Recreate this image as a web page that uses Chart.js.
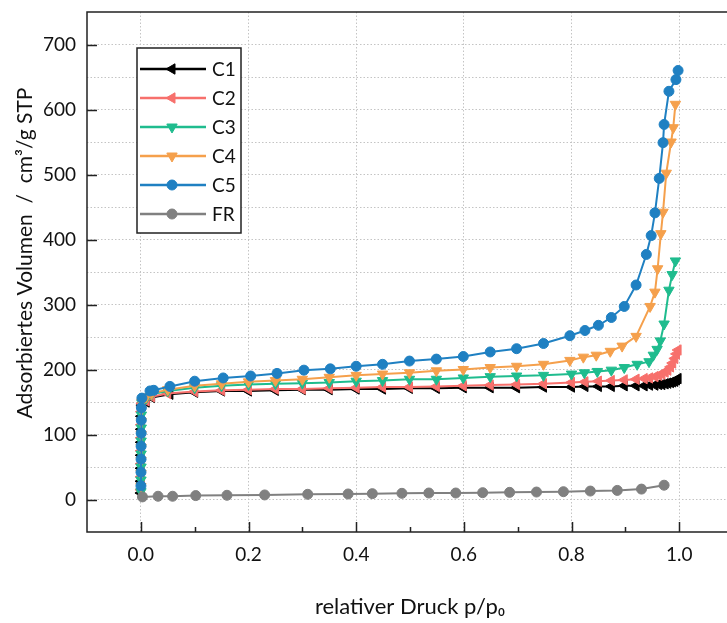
<!DOCTYPE html>
<html>
<head>
<meta charset="utf-8">
<script src="https://cdn.jsdelivr.net/npm/chart.js@4.4.1/dist/chart.umd.min.js"></script>
<style>
  html, body { margin: 0; padding: 0; background: #fff; overflow: hidden; }
  #wrap { width: 740px; height: 623px; }
</style>
</head>
<body>
<div id="wrap"><canvas id="chart" width="740" height="623"></canvas></div>
<script>
// Isothermen-Daten: relativer Druck p/p0 und adsorbiertes Volumen (cm3/g STP)
const c1P = [0.0002, 0.0003, 0.0004, 0.0005, 0.0006, 0.0008, 0.001, 0.002, 0.01, 0.02, 0.054, 0.1, 0.15, 0.2, 0.25, 0.3, 0.35, 0.4, 0.449, 0.499, 0.549, 0.599, 0.649, 0.698, 0.748, 0.8, 0.825, 0.85, 0.874, 0.898, 0.92, 0.935, 0.945, 0.955, 0.962, 0.968, 0.974, 0.979, 0.984, 0.988, 0.992, 0.995, 0.998];
const c1V = [10, 28, 48, 68, 88, 108, 128, 145, 150, 157, 162, 165, 167, 167, 168, 169, 169, 170, 170, 171, 171, 172, 172, 172, 173, 173, 174, 174, 174, 175, 175, 175, 176, 176, 177, 177, 178, 179, 180, 181, 182, 184, 186];

const c2P = [0.0002, 0.0003, 0.0004, 0.0005, 0.0006, 0.0008, 0.001, 0.002, 0.01, 0.02, 0.05, 0.1, 0.15, 0.2, 0.25, 0.3, 0.35, 0.4, 0.449, 0.499, 0.549, 0.599, 0.649, 0.698, 0.748, 0.8, 0.825, 0.85, 0.874, 0.898, 0.92, 0.935, 0.945, 0.955, 0.962, 0.968, 0.974, 0.979, 0.984, 0.988, 0.992, 0.995, 0.998];
const c2V = [15, 35, 55, 75, 95, 115, 135, 148, 152, 158, 163, 166, 168, 169, 170, 170, 171, 172, 173, 173, 174, 175, 176, 177, 178, 180, 181, 182, 183, 184, 185, 186, 187, 189, 191, 193, 196, 199, 204, 210, 217, 224, 230];

const c3P = [0.0002, 0.0003, 0.0004, 0.0005, 0.0006, 0.0008, 0.001, 0.002, 0.01, 0.02, 0.05, 0.1, 0.15, 0.2, 0.25, 0.3, 0.35, 0.4, 0.449, 0.499, 0.549, 0.599, 0.649, 0.698, 0.748, 0.8, 0.824, 0.848, 0.874, 0.898, 0.922, 0.944, 0.952, 0.959, 0.965, 0.972, 0.981, 0.987, 0.993];
const c3V = [12, 30, 50, 70, 90, 110, 130, 148, 156, 162, 167, 172, 175, 177, 178, 179, 180, 182, 183, 185, 185, 187, 189, 190, 191, 193, 195, 197, 199, 203, 208, 212, 222, 231, 244, 270, 322, 346, 367];

const c4P = [0.0002, 0.0003, 0.0004, 0.0005, 0.0006, 0.0008, 0.001, 0.002, 0.01, 0.02, 0.05, 0.1, 0.15, 0.2, 0.25, 0.3, 0.35, 0.4, 0.449, 0.499, 0.549, 0.599, 0.649, 0.698, 0.748, 0.797, 0.822, 0.846, 0.872, 0.894, 0.92, 0.946, 0.955, 0.96, 0.966, 0.97, 0.976, 0.985, 0.989, 0.993];
const c4V = [20, 40, 60, 80, 100, 120, 138, 150, 158, 163, 169, 175, 178, 181, 183, 185, 188, 191, 193, 195, 198, 200, 203, 205, 208, 214, 219, 222, 228, 236, 251, 297, 319, 355, 409, 442, 502, 550, 572, 608];

const c5P = [0.0002, 0.0003, 0.0004, 0.0005, 0.0006, 0.0008, 0.001, 0.002, 0.017, 0.024, 0.054, 0.1, 0.153, 0.204, 0.253, 0.303, 0.352, 0.4, 0.449, 0.499, 0.549, 0.599, 0.649, 0.698, 0.748, 0.797, 0.825, 0.85, 0.874, 0.898, 0.92, 0.939, 0.948, 0.955, 0.963, 0.97, 0.972, 0.981, 0.994, 0.998];
const c5V = [21, 42, 62, 82, 102, 122, 141, 156, 167, 168, 174, 182, 187, 190, 194, 199, 201, 205, 208, 213, 216, 220, 227, 232, 240, 252, 260, 268, 280, 297, 330, 377, 406, 441, 494, 549, 577, 628, 646, 660];

const frP = [0.003, 0.032, 0.059, 0.102, 0.16, 0.23, 0.31, 0.385, 0.43, 0.485, 0.535, 0.585, 0.635, 0.685, 0.735, 0.785, 0.835, 0.885, 0.93, 0.972];
const frV = [4, 5, 5, 6, 6.5, 7, 8, 8.5, 9, 9.5, 10, 10, 10.5, 11, 11.5, 12, 13, 14, 16, 22];

// Achsenbeschriftung
const xMajorTicks = [0, 0.2, 0.4, 0.6, 0.8, 1.0];
const xMinorTicks = [0.1, 0.3, 0.5, 0.7, 0.9];
const yMajorTicks = [0, 100, 200, 300, 400, 500, 600, 700];
const yTitle = 'Adsorbiertes Volumen  /  cm\u00b3/g STP';

const FONT = 'Lato, "Open Sans", sans-serif';
const GRID = '#c4c4c4';

function toPoints(p, v) {
    return p.map((x, i) => ({ x: x, y: v[i] }));
}

function series(label, p, v, color, style, rot, order) {
    return {
        label: label,
        data: toPoints(p, v),
        borderColor: color,
        backgroundColor: color,
        pointStyle: style,
        pointRotation: rot,
        pointRadius: style === 'circle' ? 5 : 6,
        pointBorderWidth: 1,
        borderWidth: 2,
        showLine: true,
        tension: 0,
        order: order
    };
}

// keine zusätzlichen Randabstände durch leere Beschriftungen
function noPadding(s) {
    s.paddingTop = 0;
    s.paddingBottom = 0;
    s.paddingLeft = 0;
    s.paddingRight = 0;
}

// Rahmen, nach innen zeigende Ticks und y-Achsentitel
const framePlugin = {
    id: 'frame',
    afterDatasetsDraw(chart) {
        const ctx = chart.ctx;
        const a = chart.chartArea;
        const xs = chart.scales.x, ys = chart.scales.y;
        ctx.save();
        ctx.strokeStyle = '#222';
        ctx.lineWidth = 1.5;
        ctx.beginPath();
        ctx.moveTo(a.right + 5, a.top);
        ctx.lineTo(a.left, a.top);
        ctx.lineTo(a.left, a.bottom);
        ctx.lineTo(a.right + 5, a.bottom);
        ctx.stroke();
        ctx.beginPath();
        xMajorTicks.forEach(v => {
            const px = Math.round(xs.getPixelForValue(v)) + 0.5;
            ctx.moveTo(px, a.bottom);
            ctx.lineTo(px, a.bottom - 10);
        });
        xMinorTicks.forEach(v => {
            const px = Math.round(xs.getPixelForValue(v)) + 0.5;
            ctx.moveTo(px, a.bottom);
            ctx.lineTo(px, a.bottom - 5);
        });
        yMajorTicks.forEach(v => {
            const py = Math.round(ys.getPixelForValue(v)) + 0.5;
            ctx.moveTo(a.left, py);
            ctx.lineTo(a.left + 10, py);
        });
        ctx.stroke();

        ctx.translate(25, (a.top + a.bottom) / 2 - 19);
        ctx.rotate(-Math.PI / 2);
        ctx.font = '21px ' + FONT;
        ctx.fillStyle = '#111';
        ctx.textAlign = 'center';
        ctx.textBaseline = 'middle';
        ctx.fillText(yTitle, 0, 0);
        ctx.restore();
    }
};

// Legende mit Linie und Symbol
const legendPlugin = {
    id: 'boxLegend',
    afterDraw(chart) {
        const ctx = chart.ctx;
        const a = chart.chartArea;
        const left = a.left + 50, top = a.top + 36, w = 104, h = 185;
        ctx.save();
        ctx.fillStyle = '#fff';
        ctx.fillRect(left, top, w, h);
        ctx.strokeStyle = '#222';
        ctx.lineWidth = 1.5;
        ctx.strokeRect(left, top, w, h);
        ctx.font = '19px ' + FONT;
        ctx.textBaseline = 'middle';
        chart.data.datasets.forEach((ds, i) => {
            const y = top + 21 + i * 29;
            ctx.strokeStyle = ds.borderColor;
            ctx.fillStyle = ds.backgroundColor;
            ctx.lineWidth = 2.5;
            ctx.beginPath();
            ctx.moveTo(left + 3, y);
            ctx.lineTo(left + 69, y);
            ctx.stroke();
            ctx.lineWidth = 1;
            Chart.helpers.drawPoint(ctx, {
                pointStyle: ds.pointStyle,
                radius: ds.pointRadius,
                rotation: ds.pointRotation,
                borderWidth: 1
            }, left + 35, y);
            ctx.fillStyle = '#111';
            ctx.fillText(ds.label, left + 75, y + 1);
        });
        ctx.restore();
    }
};

new Chart(document.getElementById('chart'), {
    type: 'scatter',
    data: {
        datasets: [
            series('C1', c1P, c1V, '#000000', 'triangle', -90, 6),
            series('C2', c2P, c2V, '#f7706c', 'triangle', -90, 5),
            series('C3', c3P, c3V, '#1fbc8e', 'triangle', 180, 4),
            series('C4', c4P, c4V, '#f5a04c', 'triangle', 180, 3),
            series('C5', c5P, c5V, '#1f80c2', 'circle', 0, 2),
            series('FR', frP, frV, '#808080', 'circle', 0, 1)
        ]
    },
    options: {
        responsive: false,
        animation: false,
        devicePixelRatio: 1,
        layout: { padding: { top: 12, right: 1, left: 0, bottom: 0 } },
        plugins: { legend: { display: false }, tooltip: { enabled: false } },
        scales: {
            x: {
                type: 'linear',
                min: -0.1,
                max: 1.1,
                ticks: {
                    stepSize: 0.1,
                    autoSkip: false,
                    maxRotation: 0,
                    padding: 11,
                    color: '#111',
                    font: { family: FONT, size: 19 },
                    callback: v => {
                        const k = Math.round(v * 10);
                        return (k >= 0 && k <= 10 && k % 2 === 0) ? (k / 10).toFixed(1) : '';
                    }
                },
                grid: {
                    drawTicks: false,
                    lineWidth: 1,
                    color: c => {
                        const k = Math.round(c.tick.value * 10);
                        return (k >= 0 && k <= 10 && k % 2 === 0) ? GRID : 'rgba(0,0,0,0)';
                    }
                },
                border: { display: false, dash: [1.5, 2] },
                title: {
                    display: true,
                    text: 'relativer Druck p/p\u2080',
                    color: '#111',
                    font: { family: FONT, size: 22 },
                    padding: { top: 0, bottom: 3 }
                },
                afterFit: s => { s.height = 91; noPadding(s); }
            },
            y: {
                min: -50,
                max: 750,
                ticks: {
                    stepSize: 50,
                    autoSkip: false,
                    padding: 11,
                    color: '#111',
                    font: { family: FONT, size: 19 },
                    callback: v => (v >= 0 && v <= 700 && v % 100 === 0) ? String(v) : ''
                },
                grid: {
                    drawTicks: false,
                    lineWidth: 1,
                    color: c => (c.tick.value > -50 && c.tick.value < 750) ? GRID : 'rgba(0,0,0,0)'
                },
                border: { display: false, dash: [1.5, 2] },
                afterFit: s => { s.width = 87; noPadding(s); }
            }
        }
    },
    plugins: [framePlugin, legendPlugin]
});
</script>
</body>
</html>
